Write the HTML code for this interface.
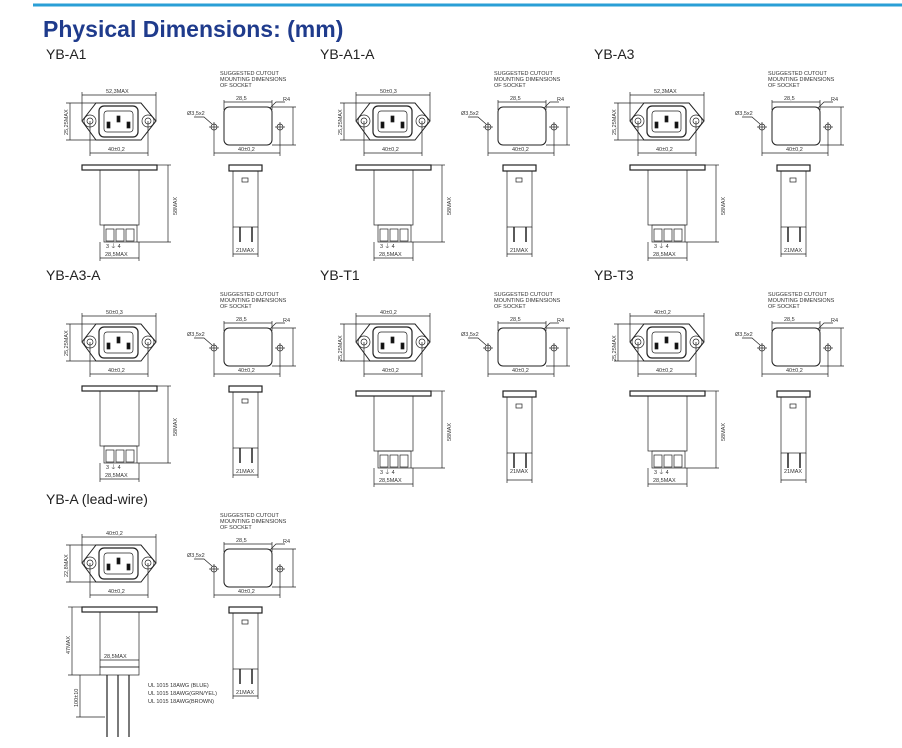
<!DOCTYPE html>
<html><head><meta charset="utf-8"><style>
html,body{margin:0;padding:0;background:#fff;}
svg{display:block;font-family:"Liberation Sans",sans-serif;}
.t{font-size:5.5px;fill:#333;}
.h{font-size:14px;fill:#222;}
</style></head><body>
<svg width="902" height="748" viewBox="0 0 902 748" xmlns="http://www.w3.org/2000/svg">
<defs>
<g id="front" fill="none" stroke="#222" stroke-width="0.7">
  <polygon points="82,121 96,103 141,103 156,121 141,140 96,140" stroke-width="1"/>
  <circle cx="90" cy="121" r="6"/><circle cx="90" cy="121" r="3"/>
  <circle cx="148" cy="121" r="6"/><circle cx="148" cy="121" r="3"/>
  <rect x="99" y="106" width="39" height="31" rx="5" stroke-width="1.2"/>
  <rect x="104" y="111" width="29" height="21" rx="3"/>
  <rect x="107" y="122" width="3" height="6" fill="#111"/>
  <rect x="117" y="116" width="3" height="6" fill="#111"/>
  <rect x="127" y="122" width="3" height="6" fill="#111"/>
  <line x1="82" y1="95" x2="156" y2="95"/><line x1="82" y1="92" x2="82" y2="121"/><line x1="156" y1="92" x2="156" y2="121"/>
  <line x1="70" y1="103" x2="70" y2="140"/><line x1="66" y1="103" x2="96" y2="103"/><line x1="66" y1="140" x2="96" y2="140"/>
  <line x1="90" y1="153" x2="148" y2="153"/><line x1="90" y1="121" x2="90" y2="156"/><line x1="148" y1="121" x2="148" y2="156"/>
  <rect x="224" y="107" width="48" height="38" rx="5" stroke-width="1"/>
  <circle cx="214" cy="127" r="3"/><line x1="209" y1="127" x2="219" y2="127"/><line x1="214" y1="122" x2="214" y2="132"/>
  <circle cx="280" cy="127" r="3"/><line x1="275" y1="127" x2="285" y2="127"/><line x1="280" y1="122" x2="280" y2="132"/>
  <line x1="214" y1="153" x2="280" y2="153"/><line x1="214" y1="132" x2="214" y2="156"/><line x1="280" y1="132" x2="280" y2="156"/>
  <line x1="224" y1="102" x2="272" y2="102"/><line x1="224" y1="100" x2="224" y2="110"/><line x1="272" y1="100" x2="272" y2="110"/>
  <line x1="293" y1="107" x2="293" y2="145"/><line x1="272" y1="107" x2="296" y2="107"/><line x1="272" y1="145" x2="296" y2="145"/>
  <polyline points="194,117 204,117 212,124"/><polyline points="270,108 276,102 285,102"/>
</g>
<g id="side" fill="none" stroke="#222" stroke-width="0.7">
  <rect x="82" y="165" width="75" height="5" stroke-width="1.2"/>
  <rect x="100" y="170" width="39" height="55"/>
  <rect x="229" y="165" width="33" height="6" stroke-width="1.2"/>
  <rect x="233" y="171" width="25" height="56"/>
  <rect x="242" y="178" width="6" height="4"/>
  <line x1="240" y1="227" x2="240" y2="242" stroke-width="1.5"/><line x1="252" y1="227" x2="252" y2="242" stroke-width="1.5"/>
  <line x1="233" y1="254" x2="258" y2="254"/><line x1="233" y1="227" x2="233" y2="257"/><line x1="258" y1="227" x2="258" y2="257"/>
</g>
<g id="term" fill="none" stroke="#222" stroke-width="0.7">
  <rect x="104" y="225" width="33" height="17"/>
  <rect x="106" y="229" width="8" height="12"/><rect x="116" y="229" width="8" height="12"/><rect x="126" y="229" width="8" height="12"/>
  <line x1="168" y1="165" x2="168" y2="242"/><line x1="157" y1="165" x2="171" y2="165"/><line x1="137" y1="242" x2="171" y2="242"/>
  <line x1="100" y1="258" x2="139" y2="258"/><line x1="100" y1="242" x2="100" y2="261"/><line x1="139" y1="242" x2="139" y2="261"/>
</g>
<g id="blk"><use href="#front"/><use href="#side"/><use href="#term"/></g>
<g id="txt">
  <text class="t" x="220" y="75">SUGGESTED CUTOUT</text>
  <text class="t" x="220" y="81">MOUNTING DIMENSIONS</text>
  <text class="t" x="220" y="87">OF SOCKET</text>
  <text class="t" x="236" y="100">28,5</text><text class="t" x="283" y="101">R4</text>
  <text class="t" x="187" y="115">Ø3,5x2</text>
  <text class="t" x="238" y="151">40±0,2</text>
  <text class="t" x="108" y="151">40±0,2</text>
  <text class="t" x="236" y="252">21MAX</text>
</g>
<g id="txt2">
  <text class="t" x="105" y="256">28,5MAX</text>
  <text class="t" x="106" y="248">3  ⏚  4</text>
  <text class="t" transform="translate(177,215) rotate(-90)">58MAX</text>
  <text class="t" transform="translate(68,135) rotate(-90)">25,25MAX</text>
</g>
</defs>
<line x1="33" y1="5" x2="902" y2="5" stroke="#2a9fd6" stroke-width="3"/>
<text x="43" y="37" style="font-size:23px;font-weight:bold;fill:#1f3b8c">Physical Dimensions: (mm)</text>

<g transform="translate(0,0)"><use href="#blk"/><use href="#txt"/><use href="#txt2"/><text class="h" x="46" y="59">YB-A1</text><text class="t" x="106" y="93">52,3MAX</text></g>
<g transform="translate(274,0)"><use href="#blk"/><use href="#txt"/><use href="#txt2"/><text class="h" x="46" y="59">YB-A1-A</text><text class="t" x="106" y="93">50±0,3</text></g>
<g transform="translate(548,0)"><use href="#blk"/><use href="#txt"/><use href="#txt2"/><text class="h" x="46" y="59">YB-A3</text><text class="t" x="106" y="93">52,3MAX</text></g>
<g transform="translate(0,221)"><use href="#blk"/><use href="#txt"/><use href="#txt2"/><text class="h" x="46" y="59">YB-A3-A</text><text class="t" x="106" y="93">50±0,3</text></g>
<g transform="translate(274,221)"><use href="#front"/><g transform="translate(0,5)"><use href="#side"/><use href="#term"/><use href="#txt2"/></g><use href="#txt"/><text class="h" x="46" y="59">YB-T1</text><text class="t" x="106" y="93">40±0,2</text></g>
<g transform="translate(548,221)"><use href="#front"/><g transform="translate(0,5)"><use href="#side"/><use href="#term"/><use href="#txt2"/></g><use href="#txt"/><text class="h" x="46" y="59">YB-T3</text><text class="t" x="106" y="93">40±0,2</text></g>
<g transform="translate(0,442)"><use href="#front"/><use href="#side"/><use href="#txt"/><text class="h" x="46" y="62">YB-A (lead-wire)</text><text class="t" x="106" y="93">40±0,2</text>
  <g fill="none" stroke="#222" stroke-width="0.7">
    <rect x="100" y="225" width="39" height="8"/>
    <line x1="72" y1="165" x2="72" y2="233"/><line x1="68" y1="165" x2="82" y2="165"/><line x1="68" y1="233" x2="100" y2="233"/>
    <line x1="80" y1="233" x2="80" y2="275"/><line x1="76" y1="275" x2="105" y2="275"/>
    <line x1="100" y1="218" x2="139" y2="218"/>
  </g>
  <g stroke="#222" stroke-width="1.2"><line x1="107" y1="233" x2="107" y2="295"/><line x1="118" y1="233" x2="118" y2="295"/><line x1="129" y1="233" x2="129" y2="295"/></g>
  <text class="t" x="104" y="216">28,5MAX</text>
  <text class="t" transform="translate(70,212) rotate(-90)">47MAX</text>
  <text class="t" transform="translate(78,265) rotate(-90)">100±10</text>
  <text class="t" transform="translate(68,135) rotate(-90)">22,8MAX</text>
  <text class="t" x="148" y="245">UL 1015 18AWG (BLUE)</text>
  <text class="t" x="148" y="253">UL 1015 18AWG(GRN/YEL)</text>
  <text class="t" x="148" y="261">UL 1015 18AWG(BROWN)</text>
</g>
</svg>
</body></html>
